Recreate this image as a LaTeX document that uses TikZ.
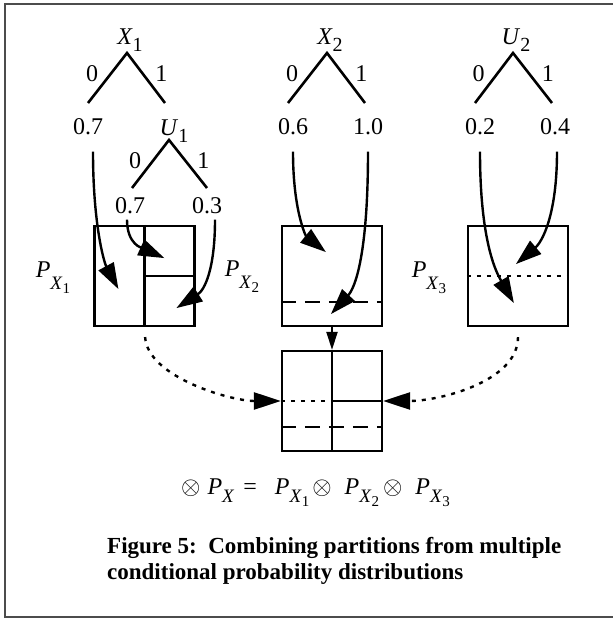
\documentclass[tikz,border=0pt]{standalone}
\usepackage{fontspec}
\setmainfont{Liberation Serif}
\usetikzlibrary{arrows.meta,positioning,calc}
\newcommand{\rvar}[2]{\textit{#1}\raisebox{-7pt}{\fontsize{20}{20}\selectfont #2}}
\newcommand{\px}[2][12]{\textit{P}\raisebox{-#1pt}{\fontsize{19}{19}\selectfont\textit{X}\raisebox{-4pt}{\fontsize{15}{15}\selectfont #2}}}

\begin{document}
\begin{tikzpicture}[x=1pt,y=1pt,
  every node/.style={font=\fontsize{24}{26}\selectfont,inner sep=1pt},
  leg/.style={line width=2.6pt},
  cell/.style={draw,line width=2.2pt,minimum size=100pt},
  flow/.style={line width=2.4pt,-{Triangle[length=26pt,width=17pt]}},
  link/.style={line width=2.4pt,dash pattern=on 4pt off 6pt,shorten <=10pt,-{Triangle[length=27pt,width=17pt]}},
  drop/.style={line width=2pt,-{Triangle[length=18pt,width=11pt]}},
  dashline/.style={line width=2.2pt,dash pattern=on 15pt off 9pt},
  dotline/.style={line width=2.2pt,dash pattern=on 4pt off 6pt}
]
\useasboundingbox (0,0) rectangle (613,619);
\draw[line width=1.5pt,black!70] (613,615) -- (5,615) -- (5,2) -- (613,2);

% tree X1 with U1 under its right branch
\coordinate (a1) at (127,566);
\coordinate (e1) at (88,516);
\coordinate (e2) at (165,516);
\node[above=0pt of a1,xshift=3pt] (x1) {\rvar{X}{1}};
\draw[leg] (e1) -- node[left=7pt,yshift=4pt] (x1no) {0} (a1) -- node[right=7pt,yshift=4pt] (x1yes) {1} (e2);
\node[below=14pt of e1] (p1) {0.7};
\node[below=16pt of e2,xshift=9pt] (u1) {\rvar{U}{1}};
\coordinate (a2) at (169,479);
\coordinate (e3) at (132,431);
\coordinate (e4) at (207,431);
\draw[leg] (e3) -- node[left=7pt,yshift=3pt] (u1no) {0} (a2) -- node[right=7pt,yshift=3pt] (u1yes) {1} (e4);
\node[below=8pt of e3,xshift=-2pt] (p2) {0.7};
\node[below=8pt of e4] (p3) {0.3};

% tree X2
\coordinate (a3) at (327,566);
\coordinate (e5) at (288,516);
\coordinate (e6) at (365,516);
\node[above=0pt of a3,xshift=3pt] (x2) {\rvar{X}{2}};
\draw[leg] (e5) -- node[left=7pt,yshift=4pt] (x2no) {0} (a3) -- node[right=7pt,yshift=4pt] (x2yes) {1} (e6);
\node[below=14pt of e5,xshift=5pt] (p5) {0.6};
\node[below=14pt of e6,xshift=3pt] (p6) {1.0};

% tree U2
\coordinate (a4) at (513,566);
\coordinate (e7) at (475,516);
\coordinate (e8) at (552,516);
\node[above=0pt of a4,xshift=3pt] (u2) {\rvar{U}{2}};
\draw[leg] (e7) -- node[left=7pt,yshift=4pt] (u2no) {0} (a4) -- node[right=7pt,yshift=4pt] (u2yes) {1} (e8);
\node[below=14pt of e7,xshift=5pt] (p7) {0.2};
\node[below=14pt of e8,xshift=3pt] (p8) {0.4};

% partitions
\node[cell] (b1) at (144.5,343) {};
\node[cell] (b2) at (332,343) {};
\node[cell] (b3) at (518,343) {};
\node[cell] (b4) at (332,218) {};
\draw[line width=2.2pt] (b1.north) -- (b1.south) (b1.center) -- (b1.east);
\draw[dashline] ($(b2.south west)+(0,25)$) -- ($(b2.south east)+(0,25)$);
\draw[dotline] (b3.west) -- (b3.east);
\draw[line width=2.2pt] (b4.north) -- (b4.south) (b4.center) -- (b4.east);
\draw[dotline] (b4.west) -- (b4.center);
\draw[dashline] ($(b4.south west)+(0,25)$) -- ($(b4.south east)+(0,25)$);

\node (px1) at (53,341) {\px1};
\node (px2) at (242,342) {\px2};
\node (px3) at (429,341) {\px3};

% leaves into the partitions
\coordinate (t1) at ($(b1.south west)+(25,38)$);
\coordinate (t2) at ($(b1.south west)+(71,69)$);
\coordinate (t3) at ($(b1.south west)+(83,19)$);
\coordinate (t4) at ($(b2.south west)+(45,75)$);
\coordinate (t5) at ($(b2.south west)+(50,13)$);
\coordinate (t6) at ($(b3.south west)+(47,24)$);
\coordinate (t7) at ($(b3.south west)+(49,63)$);
\draw[flow,shorten <=16pt] ([xshift=5pt]p1.south) .. controls +(0,-90) and +(-14,26) .. (t1);
\draw[flow,shorten <=5pt] ([xshift=-3pt]p2.south) .. controls +(0,-30) and +(-22,10) .. (t2);
\draw[flow,shorten <=5pt] ([xshift=8pt]p3.south) .. controls +(0,-55) and +(28,18) .. (t3);
\draw[flow,shorten <=16pt] (p5.south) .. controls +(0,-75) and +(-20,16) .. (t4);
\draw[flow,shorten <=16pt] (p6.south) .. controls +(0,-120) and +(24,26) .. (t5);
\draw[flow,shorten <=16pt] (p7.south) .. controls +(0,-110) and +(-16,28) .. (t6);
\draw[flow,shorten <=16pt] ([xshift=2pt]p8.south) .. controls +(0,-80) and +(26,22) .. (t7);

% combining
\draw[link] (b1.south) .. controls +(3,-50) and +(-50,0) .. (b4.west);
\draw[link] (b3.south) .. controls +(0,-55) and +(55,0) .. (b4.east);
\draw[drop] (b2.south) -- (b4.north);

\node[anchor=west] (eq) at (180,126) {$\otimes$\hspace{7pt}\px[8]{}\hspace{9pt}=\hspace{18pt}\px[8]{1}\hspace{3pt}$\otimes$\hspace{13pt}\px[8]{2}\hspace{4pt}$\otimes$\hspace{13pt}\px[8]{3}};
\node[anchor=north west,align=left,font=\bfseries\fontsize{23}{26}\selectfont] (cap) at (106,83)
  {Figure 5:\ \ Combining partitions from multiple\\conditional probability distributions};
\end{tikzpicture}
\end{document}
